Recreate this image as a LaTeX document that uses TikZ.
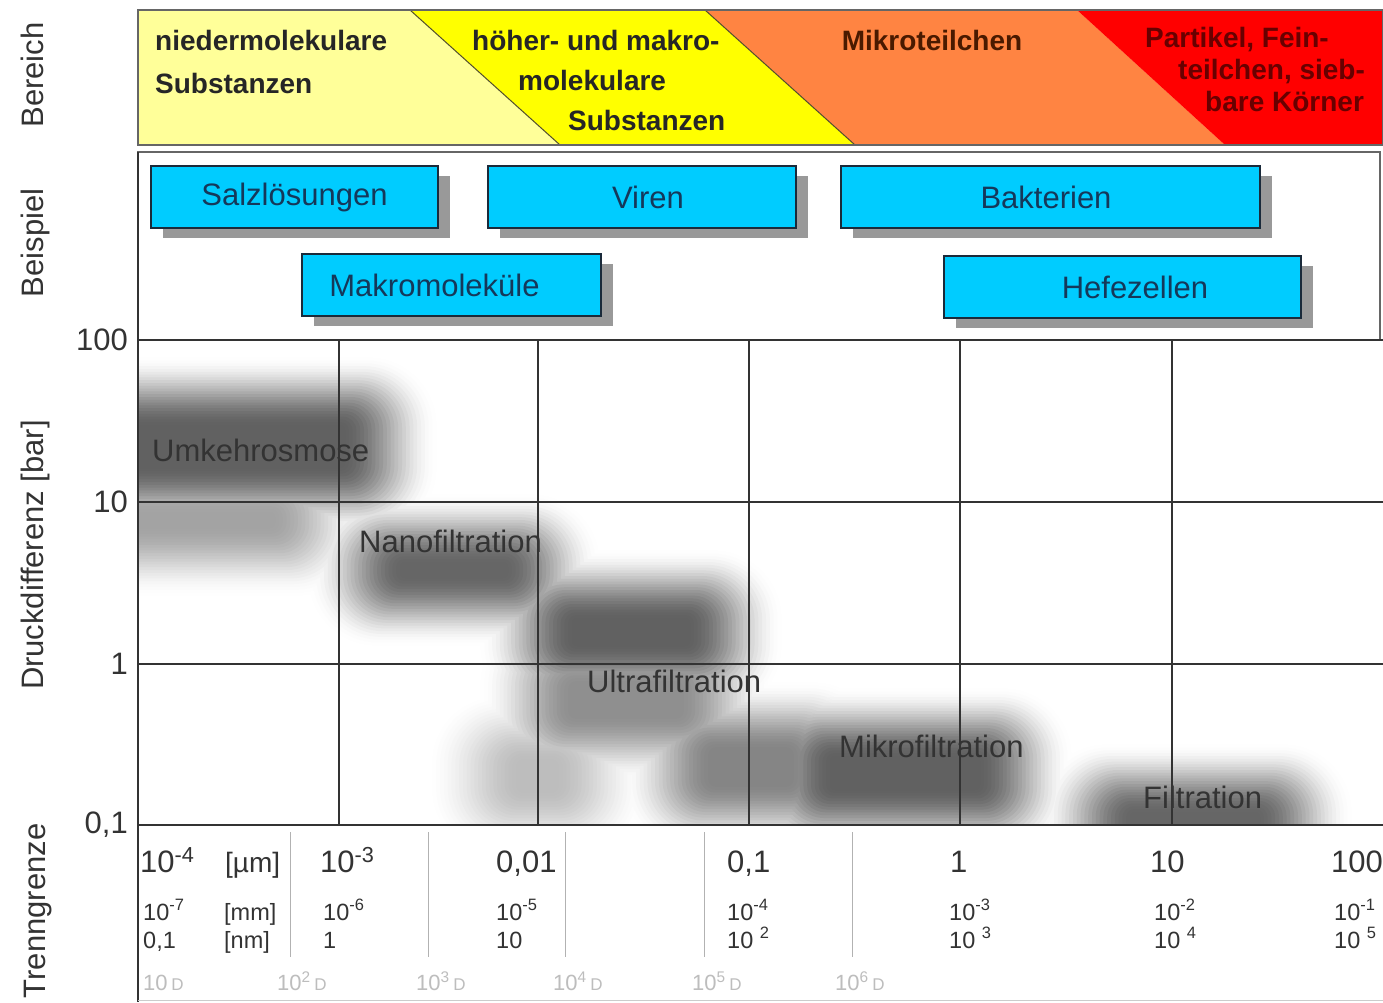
\documentclass[tikz,border=0pt]{standalone}
\usepackage{fontspec}
\setmainfont{Liberation Sans}
\usetikzlibrary{shadows,positioning}
\definecolor{hellgelb}{HTML}{FFFF99}
\definecolor{gelb}{HTML}{FFFF00}
\definecolor{mikroorange}{HTML}{FF8442}
\definecolor{rot}{HTML}{FF0000}
\definecolor{boxblau}{HTML}{00CCFF}
\definecolor{boxrand}{HTML}{1A2A3A}
\definecolor{boxtext}{HTML}{15385A}
\definecolor{schatten}{HTML}{999999}
\definecolor{gitterfarbe}{HTML}{333333}
\definecolor{beschrift}{HTML}{333333}
\definecolor{blass}{HTML}{BDBDBD}
\definecolor{braun}{HTML}{4A1A00}
\definecolor{dunkelrot}{HTML}{680000}
% Kern x1 y1 x2 y2, Rand wird weich ausgeblendet
\newcommand{\wolke}[5][50]{%
	\foreach \k [evaluate=\k as \g using #1*(3*(\k/25)^2-2*(\k/25)^3),
	             evaluate=\k as \dx using (25-\k)*3.8,
	             evaluate=\k as \dy using (25-\k)*2.8,
	             evaluate=\k as \r using 6+(25-\k)*2.6] in {1,...,25}
	\fill[black!\g, rounded corners=\r pt] ({#2-\dx},{#3-\dy}) rectangle ({#4+\dx},{#5+\dy});
}
\tikzset{
	every node/.style={
		font=\fontsize{31}{37}\selectfont,
		text=beschrift,
		inner sep=0pt
	},
	bereich/.style={
		font=\bfseries\fontsize{28}{43}\selectfont,
		align=left,
		text=black!85
	},
	beispiel/.style={
		shape=rectangle,
		draw=boxrand,
		fill=boxblau,
		line width=1.5pt,
		minimum height=62pt,
		text=boxtext,
		drop shadow={shadow xshift=12pt, shadow yshift=-10pt, fill=schatten, opacity=1}
	},
	verfahren/.style={
		anchor=west,
		text=black!80
	},
	seite/.style={
		rotate=90,
		anchor=base
	},
	achse/.style={anchor=base west},
	klein/.style={anchor=base west, font=\fontsize{23.5}{28}\selectfont},
	dalton/.style={anchor=base west, font=\fontsize{22}{26}\selectfont, text=blass},
	grenze/.style={draw=black!55!olive, line width=1pt},
	rahmen/.style={draw=black!60, line width=1.8pt},
	gitter/.style={draw=gitterfarbe, line width=2pt},
	trenner/.style={draw=black!30, line width=1pt},
}
\begin{document}
\begin{tikzpicture}[x=1pt, y=-1pt]
	\useasboundingbox[fill=white] (0,0) rectangle (1383,1002);
	
	% Bereich
	\fill[hellgelb] (138,10) -- (410,10) -- (560,145) -- (138,145) -- cycle;
	\fill[gelb] (410,10) -- (705,10) -- (855,145) -- (560,145) -- cycle;
	\fill[mikroorange] (705,10) -- (1077,10) -- (1225,145) -- (855,145) -- cycle;
	\fill[rot] (1077,10) -- (1383,10) -- (1383,145) -- (1225,145) -- cycle;
	\draw[grenze] (410,10) -- (560,145);
	\draw[grenze] (705,10) -- (855,145);
	\draw[rahmen] (138,10) rectangle (1383,145);
	
	\node[bereich, anchor=north west] (nieder) at (155,30) {niedermolekulare\\Substanzen};
	\node[bereich, anchor=north west, font=\bfseries\fontsize{28}{40}\selectfont] (hoeher) at (472,30) {höher- und makro-\\\hspace*{46pt}molekulare\\\hspace*{96pt}Substanzen};
	\node[bereich, anchor=base, text=braun] (mikro) at (932,50) {Mikroteilchen};
	\node[bereich, anchor=north west, text=dunkelrot, font=\bfseries\fontsize{28}{32}\selectfont] (partikel) at (1145,27) {Partikel, Fein-\\\hspace*{33pt}teilchen, sieb-\\\hspace*{60pt}bare Körner};
	
	% Beispiel
	\draw[rahmen] (138,152) rectangle (1380,340);
	\node[beispiel, minimum width=287pt] (salz) at (294.5,197) {Salzlösungen};
	\node[beispiel, minimum width=308pt] (viren) at (642,197) {\hspace*{12pt}Viren};
	\node[beispiel, minimum width=419pt] (bakterien) at (1050.5,197) {Bakterien\hspace*{9pt}};
	\node[beispiel, minimum width=299pt] (makro) at (451.5,285) {Makromoleküle\hspace*{34pt}};
	\node[beispiel, minimum width=357pt] (hefe) at (1122.5,287) {\hspace*{25pt}Hefezellen};
	
	% Druckbereiche
	\begin{scope}[blend mode=darken]
		\clip (138,340) rectangle (1383,825);
		\wolke[62]{100}{425}{345}{468}
		\wolke[36]{100}{512}{275}{528}
		\wolke[60]{400}{562}{508}{578}
		\wolke[62]{572}{618}{690}{646}
		\wolke[44]{572}{684}{680}{716}
		\wolke[26]{520}{762}{555}{790}
		\wolke[48]{712}{750}{790}{784}
		\wolke[62]{830}{756}{980}{790}
		\wolke[60]{1130}{812}{1260}{842}
	\end{scope}
	
	\foreach \y in {340,502,664,825}
	\draw[gitter] (138,\y) -- (1383,\y);
	\foreach \x in {339,538,749,960,1172}
	\draw[gitter] (\x,340) -- (\x,825);
	\draw[gitter] (138,152) -- (138,1002);
	\draw[trenner, draw=black!20] (138,1000) -- (1383,1000);
	\foreach \x in {290,428,565,704,852}
	\draw[trenner] (\x,832) -- (\x,957);
	
	\node[anchor=east] (p100) at (128,340) {100};
	\node[anchor=east] (p10) at (128,502) {10};
	\node[anchor=east] (p1) at (128,664) {1};
	\node[anchor=east] (p01) at (128,825) {0,1};
	
	\node[verfahren] (umkehr) at (152,450) {Umkehrosmose};
	\node[verfahren] (nano) at (359,541) {Nanofiltration};
	\node[verfahren] (ultra) at (587,681) {Ultrafiltration};
	\node[verfahren] (mikrof) at (839,746) {Mikrofiltration};
	\node[verfahren] (filt) at (1143,797) {Filtration};
	
	\node[seite] (lbereich) at (43,75) {Bereich};
	\node[seite] (lbeispiel) at (43,243) {Beispiel};
	\node[seite] (ldruck) at (43,555) {Druckdifferenz [bar]};
	\node[seite] (ltrenn) at (45,911) {Trenngrenze};
	
	% Trenngrenze
	\node[achse] (um1) at (140,872) {10\textsuperscript{-4}};
	\node[achse, font=\fontsize{28}{34}\selectfont] (umeinheit) at (225,872) {[µm]};
	\node[achse] (um2) at (320,872) {10\textsuperscript{-3}};
	\node[achse] (um3) at (496,872) {0,01};
	\node[achse] (um4) at (727,872) {0,1};
	\node[achse] (um5) at (950,872) {1};
	\node[achse] (um6) at (1150,872) {10};
	\node[anchor=base east] (um7) at (1383,872) {100};
	
	\node[klein] (mm1) at (143,920) {10\textsuperscript{-7}};
	\node[klein] (mmeinheit) at (224,920) {[mm]};
	\node[klein] (mm2) at (323,920) {10\textsuperscript{-6}};
	\node[klein] (mm3) at (496,920) {10\textsuperscript{-5}};
	\node[klein] (mm4) at (727,920) {10\textsuperscript{-4}};
	\node[klein] (mm5) at (949,920) {10\textsuperscript{-3}};
	\node[klein] (mm6) at (1154,920) {10\textsuperscript{-2}};
	\node[klein] (mm7) at (1334,920) {10\textsuperscript{-1}};
	
	\node[klein] (nm1) at (143,948) {0,1};
	\node[klein] (nmeinheit) at (224,948) {[nm]};
	\node[klein] (nm2) at (323,948) {1};
	\node[klein] (nm3) at (496,948) {10};
	\node[klein] (nm4) at (727,948) {10 \textsuperscript{2}};
	\node[klein] (nm5) at (949,948) {10 \textsuperscript{3}};
	\node[klein] (nm6) at (1154,948) {10 \textsuperscript{4}};
	\node[klein] (nm7) at (1334,948) {10 \textsuperscript{5}};
	
	\node[dalton] (d1) at (143,990) {10\,{\fontsize{17}{20}\selectfont D}};
	\node[dalton] (d2) at (277,990) {10\textsuperscript{2}\,{\fontsize{17}{20}\selectfont D}};
	\node[dalton] (d3) at (416,990) {10\textsuperscript{3}\,{\fontsize{17}{20}\selectfont D}};
	\node[dalton] (d4) at (553,990) {10\textsuperscript{4}\,{\fontsize{17}{20}\selectfont D}};
	\node[dalton] (d5) at (692,990) {10\textsuperscript{5}\,{\fontsize{17}{20}\selectfont D}};
	\node[dalton] (d6) at (835,990) {10\textsuperscript{6}\,{\fontsize{17}{20}\selectfont D}};
\end{tikzpicture}
\end{document}
